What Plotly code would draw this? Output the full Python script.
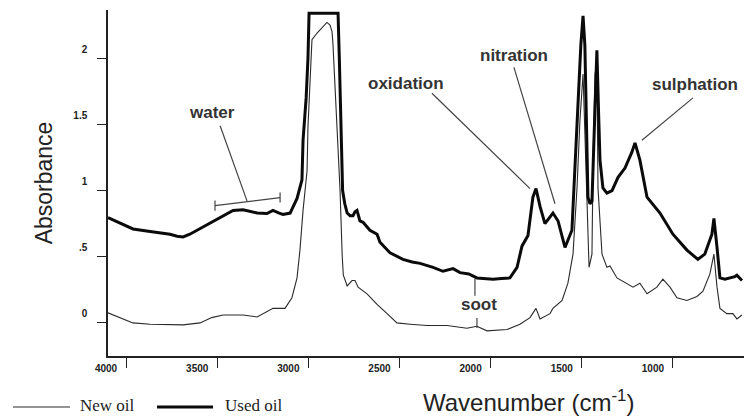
import plotly.graph_objects as go

# ---- data (wavenumber cm-1, absorbance) ----
wn_used = [4099, 4060, 4033, 3962, 3868, 3800, 3759, 3720, 3687, 3650, 3611, 3539, 3468, 3413,
           3358, 3320, 3281, 3227, 3194, 3160, 3139, 3100, 3062, 3035, 3029, 3012, 3002, 2996,
           2837, 2830, 2820, 2812, 2800, 2787, 2771, 2755, 2744, 2733, 2717, 2700, 2662, 2623,
           2607, 2552, 2481, 2430, 2387, 2316, 2261, 2206, 2168, 2120, 2075, 2030, 1987, 1940,
           1894, 1855, 1828, 1795, 1768, 1751, 1729, 1702, 1674, 1658, 1630, 1592, 1554, 1526,
           1505, 1493, 1483, 1466, 1455, 1444, 1427, 1417, 1408, 1400, 1384, 1362, 1334, 1301,
           1263, 1225, 1208, 1181, 1142, 1071, 1000, 923, 863, 825, 786, 775, 758, 742, 715,
           687, 660, 649, 621]
abs_used = [0.795, 0.77, 0.75, 0.71, 0.69, 0.68, 0.67, 0.655, 0.65, 0.67, 0.70, 0.75, 0.81, 0.85,
            0.855, 0.845, 0.83, 0.826, 0.85, 0.83, 0.82, 0.83, 0.94, 1.08, 1.38, 1.70, 2.0, 2.34,
            2.34, 2.0, 1.5, 1.0, 0.9, 0.83, 0.81, 0.81, 0.84, 0.85, 0.77, 0.76, 0.70, 0.67,
            0.61, 0.53, 0.48, 0.46, 0.45, 0.42, 0.39, 0.41, 0.38, 0.37, 0.34, 0.335, 0.33, 0.335,
            0.34, 0.42, 0.58, 0.66, 0.95, 1.015, 0.88, 0.75, 0.80, 0.83, 0.77, 0.57, 0.70, 1.53,
            2.1, 2.32, 2.1, 0.95, 0.90, 0.92, 1.6, 2.06, 1.6, 1.23, 1.02, 0.98, 1.0, 1.1,
            1.17, 1.29, 1.36, 1.23, 0.95, 0.83, 0.67, 0.55, 0.48, 0.52, 0.67, 0.79, 0.57, 0.34, 0.33,
            0.34, 0.35, 0.36, 0.32]

wn_new = [4099, 4033, 3962, 3868, 3775, 3687, 3594, 3530, 3468, 3358, 3281, 3194, 3128, 3090,
          3062, 3046, 3029, 3007, 3002, 2980, 2952, 2925, 2898, 2881, 2870, 2865, 2843, 2826,
          2814, 2808, 2787, 2760, 2744, 2727, 2678, 2623, 2568, 2514, 2442, 2349, 2239, 2130,
          2075, 2020, 1910, 1839, 1784, 1751, 1729, 1674, 1658, 1608, 1576, 1548, 1526, 1510,
          1493, 1471, 1460, 1444, 1438, 1427, 1417, 1411, 1389, 1362, 1345, 1307, 1252, 1219,
          1181, 1142, 1088, 1055, 1016, 978, 923, 868, 835, 797, 775, 758, 742, 704, 671, 649, 621]
abs_new = [0.076, 0.04, 0.0, -0.01, -0.015, -0.015, 0.0, 0.04, 0.06, 0.06, 0.045, 0.11, 0.11, 0.19,
           0.34, 0.55, 0.85, 1.15, 1.48, 2.14, 2.19, 2.23, 2.27, 2.25, 2.2, 2.11, 1.48, 1.0,
           0.5, 0.36, 0.28, 0.32, 0.32, 0.27, 0.22, 0.14, 0.07, 0.0, -0.01, -0.02, -0.02, -0.04,
           -0.025, -0.06, -0.05, -0.01, 0.04, 0.11, 0.03, 0.07, 0.11, 0.17, 0.30, 0.52, 1.02, 1.53,
           1.88, 0.77, 0.42, 0.52, 1.23, 1.88, 1.97, 1.02, 0.52, 0.42, 0.43, 0.34, 0.30, 0.27,
           0.30, 0.22, 0.27, 0.33, 0.27, 0.19, 0.17, 0.20, 0.24, 0.37, 0.52, 0.27, 0.11, 0.07, 0.07, 0.03, 0.06]

x_ticks = [4000, 3500, 3000, 2500, 2000, 1500, 1000]
x_ticktext = ["4000", "3500", "3000", "2500", "2000", "1500", "1000"]
y_ticks = [0, 0.5, 1, 1.5, 2]
y_ticktext = ["0", ".5", "1", "1.5", "2"]

series_names = ["New oil", "Used oil"]

labels = ["water", "oxidation", "nitration", "sulphation", "soot"]
label_wn = [3528, 2464, 1872, 880, 2064]
label_abs = [1.59, 1.81, 2.02, 1.80, 0.14]

W, H = 744, 416
ML, MR, MT, MB = 108, 0, 10, 60


def px_x(p):
    return (p - ML) / (W - ML - MR)


def px_y(p):
    return (H - MB - p) / (H - MT - MB)


fig = go.Figure()
fig.add_trace(go.Scatter(x=wn_new, y=abs_new, mode="lines", name=series_names[0],
                         line=dict(color="#2a2a2a", width=1.1), showlegend=False))
fig.add_trace(go.Scatter(x=wn_used, y=abs_used, mode="lines", name=series_names[1],
                         line=dict(color="#0a0a0a", width=3), showlegend=False))

lead = dict(color="#444444", width=1.2)
shapes = [
    dict(type="line", x0=2322, y0=1.735, x1=1784, y1=1.015, line=lead),
    dict(type="line", x0=1872, y0=1.93, x1=1647, y1=0.90, line=lead),
    dict(type="line", x0=890, y0=1.70, x1=1170, y1=1.38, line=lead),
    dict(type="line", x0=3484, y0=1.49, x1=3336, y1=0.92, line=lead),
    dict(type="line", x0=3512, y0=0.886, x1=3155, y1=0.947, line=lead),
    dict(type="line", x0=3512, y0=0.848, x1=3512, y1=0.924, line=lead),
    dict(type="line", x0=3155, y0=0.909, x1=3155, y1=0.985, line=lead),
    dict(type="line", x0=2086, y0=0.333, x1=2086, y1=0.205, line=lead),
    dict(type="line", x0=2075, y0=0.038, x1=2075, y1=-0.038, line=lead),
]
for s in shapes:
    s.update(xref="x", yref="y")

# legend drawn below the axes
shapes += [
    dict(type="line", xref="paper", yref="paper", x0=px_x(13), x1=px_x(70), y0=px_y(407), y1=px_y(407),
         line=dict(color="#2a2a2a", width=1.1)),
    dict(type="line", xref="paper", yref="paper", x0=px_x(157), x1=px_x(213), y0=px_y(407), y1=px_y(407),
         line=dict(color="#0a0a0a", width=3)),
]

annotations = []
for t, xv, yv in zip(labels, label_wn, label_abs):
    annotations.append(dict(x=xv, y=yv, xref="x", yref="y", text=t, showarrow=False,
                            font=dict(family="Liberation Sans, Arial", size=17, color="#333333",
                                      weight="bold")))

annotations += [
    dict(x=px_x(78), y=px_y(405), xref="paper", yref="paper", xanchor="left", yanchor="middle",
         text=series_names[0], showarrow=False,
         font=dict(family="Liberation Serif, Times New Roman", size=17, color="#222222")),
    dict(x=px_x(223), y=px_y(405), xref="paper", yref="paper", xanchor="left", yanchor="middle",
         text=series_names[1], showarrow=False,
         font=dict(family="Liberation Serif, Times New Roman", size=17, color="#222222")),
    dict(x=px_x(528), y=px_y(401), xref="paper", yref="paper", xanchor="center", yanchor="middle",
         text="Wavenumber (cm<sup>-1</sup>)", showarrow=False,
         font=dict(family="Liberation Sans, Arial", size=24, color="#222222")),
]

fig.update_layout(
    width=W, height=H,
    margin=dict(l=ML, r=MR, t=MT, b=MB),
    paper_bgcolor="white", plot_bgcolor="white",
    shapes=shapes, annotations=annotations,
    xaxis=dict(range=[4099, 610], tickvals=x_ticks, ticktext=x_ticktext,
               ticks="outside", ticklen=10, tickwidth=1.3, tickcolor="#222",
               showline=True, linecolor="#222", linewidth=1.5, showgrid=False, zeroline=False,
               ticklabelshift=20, ticklabelstandoff=-8,
               tickfont=dict(family="Liberation Sans, Arial", size=10, color="#222", weight="bold")),
    yaxis=dict(range=[-0.25, 2.364], tickvals=y_ticks, ticktext=y_ticktext,
               ticks="outside", ticklen=9, tickwidth=1.3, tickcolor="#222",
               showline=True, linecolor="#222", linewidth=1.5, showgrid=False, zeroline=False,
               ticklabelshift=-9, ticklabelstandoff=8,
               tickfont=dict(family="Liberation Sans, Arial", size=10, color="#222", weight="bold"),
               title=dict(text="Absorbance", standoff=14,
                          font=dict(family="Liberation Sans, Arial", size=23, color="#222"))),
)

fig.write_html("out.html", config={"displayModeBar": False},
               post_script="document.body.style.margin='0px';")
